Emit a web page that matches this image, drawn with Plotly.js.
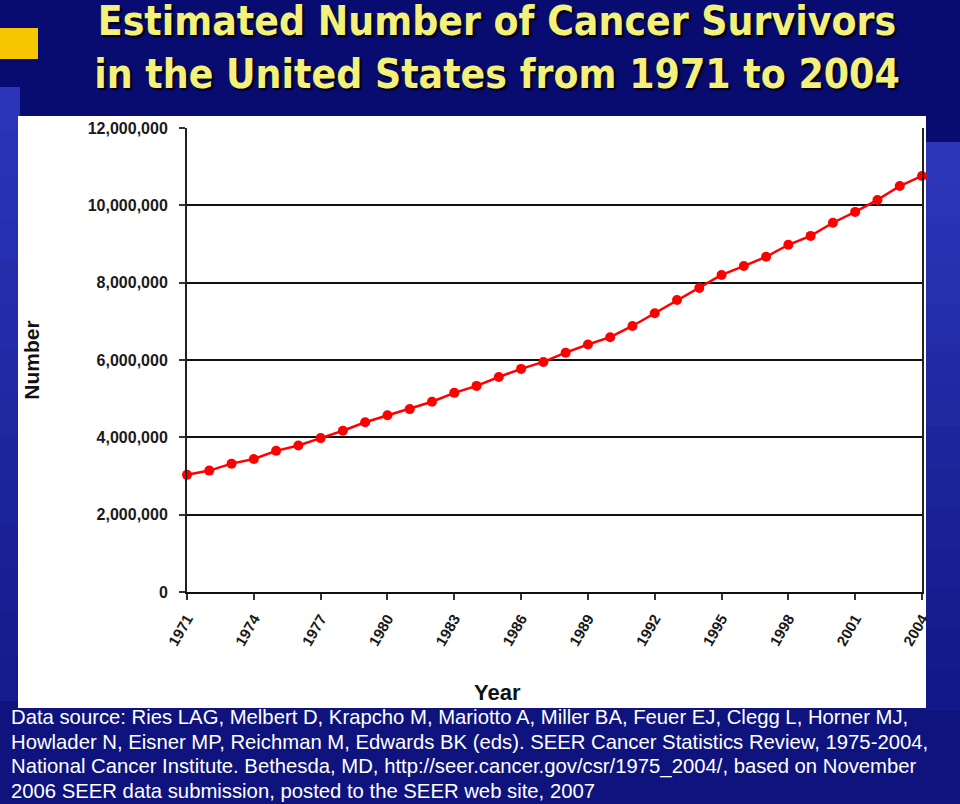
<!DOCTYPE html>
<html>
<head>
<meta charset="utf-8">
<script src="https://cdn.plot.ly/plotly-3.0.1.min.js"></script>
<style>html,body{margin:0;padding:0;background:#080c70;}#chart{width:960px;height:804px;}</style>
</head>
<body>
<div id="chart"></div>
<script>
// ---- data ----
const years = [1971,1972,1973,1974,1975,1976,1977,1978,1979,1980,1981,1982,1983,1984,1985,1986,1987,
               1988,1989,1990,1991,1992,1993,1994,1995,1996,1997,1998,1999,2000,2001,2002,2003,2004];
const survivors = [3030000,3140000,3320000,3440000,3650000,3790000,3980000,4170000,4390000,4570000,
                   4730000,4920000,5150000,5330000,5560000,5770000,5950000,6190000,6400000,6590000,
                   6880000,7210000,7550000,7860000,8200000,8430000,8670000,8980000,9210000,9550000,
                   9830000,10140000,10500000,10760000];
const yTickValues = [0,2000000,4000000,6000000,8000000,10000000,12000000];
const titleLines = ["Estimated Number of Cancer Survivors","in the United States from 1971 to 2004"];
const sourceLines = [
  "Data source: Ries LAG, Melbert D, Krapcho M, Mariotto A, Miller BA, Feuer EJ, Clegg L, Horner MJ,",
  "Howlader N, Eisner MP, Reichman M, Edwards BK (eds). SEER Cancer Statistics Review, 1975-2004,",
  "National Cancer Institute. Bethesda, MD, http://seer.cancer.gov/csr/1975_2004/, based on November",
  "2006 SEER data submission, posted to the SEER web site, 2007"
];
const xTitle = "Year";
const yTitle = "Number";

// ---- layout geometry (pixels -> paper) ----
const L = 187, R = 922, T = 128, B = 592;
const PX = x => (x - L) / (R - L);
const PY = y => (B - y) / (B - T);

function rect(x0, y0, x1, y1, color) {
  return {type:'rect', xref:'paper', yref:'paper', x0:PX(x0), x1:PX(x1), y0:PY(y1), y1:PY(y0),
          fillcolor: color, line:{width:0}, layer:'below'};
}
function mix(a, b, t) {
  const pa = [parseInt(a.slice(1,3),16),parseInt(a.slice(3,5),16),parseInt(a.slice(5,7),16)];
  const pb = [parseInt(b.slice(1,3),16),parseInt(b.slice(3,5),16),parseInt(b.slice(5,7),16)];
  return 'rgb(' + pa.map((v,i)=>Math.round(v+(pb[i]-v)*t)).join(',') + ')';
}
const shapes = [];
shapes.push(rect(0, 700, 960, 804, '#0e137e'));
const nb = 14;
for (let i = 0; i < nb; i++) {
  const y0 = 87 + (700 - 87) * i / nb, y1 = 87 + (700 - 87) * (i + 1) / nb + 1;
  shapes.push(rect(0, y0, 20, y1, mix('#2c35b9', '#141b8c', i / (nb - 1))));
}
for (let i = 0; i < nb; i++) {
  const y0 = 142 + (710 - 142) * i / nb, y1 = 142 + (710 - 142) * (i + 1) / nb + 1;
  shapes.push(rect(925, y0, 960, y1, mix('#2c36b8', '#121888', i / (nb - 1))));
}
shapes.push(rect(18, 116, 926, 708, '#ffffff'));
shapes.push(rect(0, 28, 38, 59, '#f6c600'));

const trace = {
  x: years, y: survivors, type: 'scatter', mode: 'lines+markers',
  line: {color: '#ff0000', width: 2.5},
  marker: {color: '#ff0000', size: 10},
  cliponaxis: false,
  hoverinfo: 'x+y'
};

const tickFont = {family: 'Liberation Sans, Arial, sans-serif', size: 16, color: '#1a1a1a', weight: 700};

const sourceAnnotations = sourceLines.map((t, i) => ({
  text: t, xref: 'paper', yref: 'paper', x: PX(9), y: PY(717 + 24.5 * i),
  xanchor: 'left', yanchor: 'middle', align: 'left', showarrow: false,
  font: {family: 'Liberation Sans, Arial, sans-serif', size: 20.3, color: '#ffffff'}
}));

const layout = {
  width: 960, height: 804,
  margin: {l: L, r: 960 - R, t: T, b: 804 - B, pad: 0},
  paper_bgcolor: '#080c70',
  plot_bgcolor: '#ffffff',
  showlegend: false,
  title: {
    text: titleLines.join('<br>'),
    xref: 'container', yref: 'container', x: 497 / 960, xanchor: 'center',
    y: 1 - 35 / 804, yanchor: 'top',
    font: {family: 'DejaVu Sans Condensed, DejaVu Sans, Arial, sans-serif',
           size: 40.5, color: '#f3f07c', weight: 700, shadow: '2px 2px 2px #000000'}
  },
  xaxis: {
    range: [1971, 2004], tick0: 1971, dtick: 3, tickmode: 'linear',
    showgrid: false, zeroline: false,
    showline: true, linecolor: '#111111', linewidth: 2,
    ticks: 'outside', ticklen: 6, tickcolor: '#333333', tickwidth: 2,
    tickangle: -60, tickfont: Object.assign({}, tickFont, {size: 15}),
    ticklabelstandoff: 4, fixedrange: true
  },
  yaxis: {
    range: [0, 12000000], tickvals: yTickValues, tickformat: ',d',
    showgrid: true, gridcolor: '#111111', gridwidth: 2,
    zeroline: true, zerolinecolor: '#111111', zerolinewidth: 2,
    showline: true, linecolor: '#222222', linewidth: 2, mirror: true,
    ticks: 'outside', ticklen: 6, tickcolor: '#333333', tickwidth: 2,
    tickfont: tickFont, ticklabelstandoff: 8, fixedrange: true,
    title: {text: yTitle, standoff: 42,
            font: {family: 'Liberation Sans, Arial, sans-serif', size: 21, color: '#111111', weight: 700}}
  },
  shapes: shapes,
  annotations: [
    {text: xTitle, xref: 'paper', yref: 'paper', x: PX(497), y: PY(692), xanchor: 'center', yanchor: 'middle',
     showarrow: false, font: {family: 'Liberation Sans, Arial, sans-serif', size: 22, color: '#111111', weight: 700}}
  ].concat(sourceAnnotations)
};

Plotly.newPlot('chart', [trace], layout, {displayModeBar: false, staticPlot: true});
</script>
</body>
</html>
